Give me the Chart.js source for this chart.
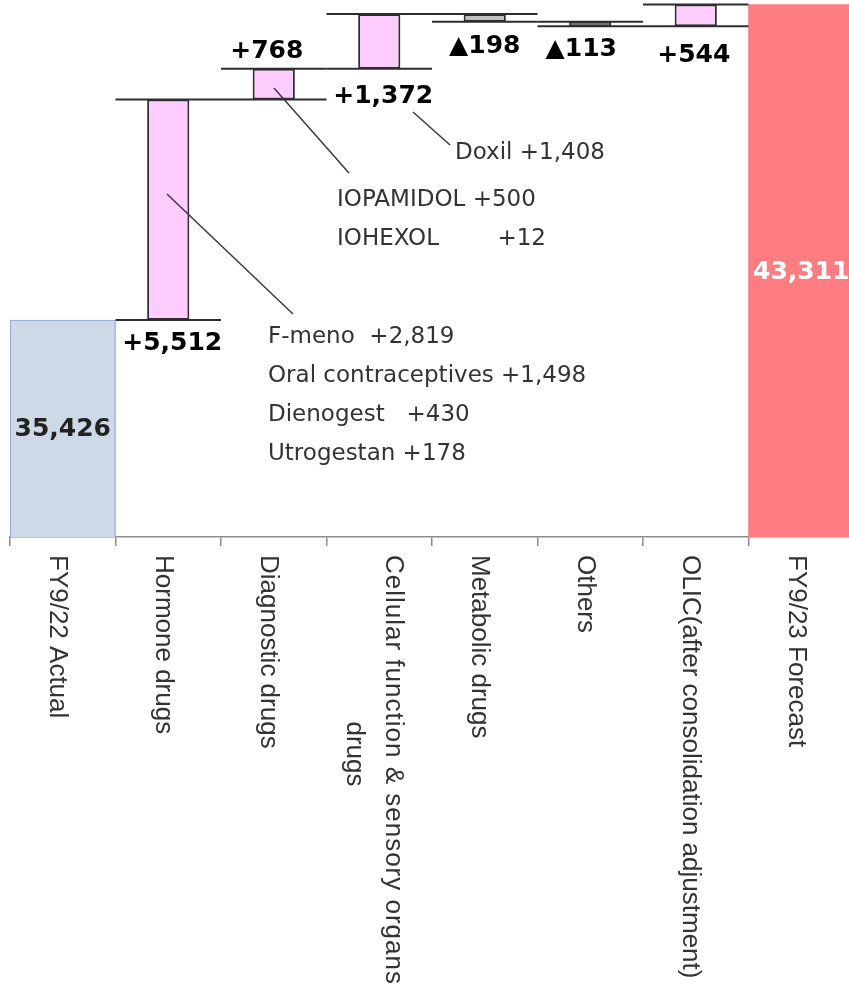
<!DOCTYPE html>
<html>
<head>
<meta charset="utf-8">
<script src="https://cdn.jsdelivr.net/npm/chart.js@4.4.1/dist/chart.umd.min.js"></script>
<style>
  html, body { margin: 0; padding: 0; background: #ffffff; overflow: hidden; }
  #wrap { width: 849px; height: 991px; overflow: hidden; position: relative; }
  canvas { display: block; }
</style>
</head>
<body>
<div id="wrap"><canvas id="chart" width="854" height="991"></canvas></div>
<script>
// ---- Data ----
const categories = [
  'FY9/22 Actual',
  'Hormone drugs',
  'Diagnostic drugs',
  ['Cellular function & sensory organs', 'drugs'],
  'Metabolic drugs',
  'Others',
  'OLIC(after consolidation adjustment)',
  'FY9/23 Forecast'
];
const startTotal = 35426;
const changes = [5512, 768, 1372, -198, -113, 544];
const endTotal = 43311;
const changeLabels = ['+5,512', '+768', '+1,372', '\u25B2198', '\u25B2113', '+544'];
const totalLabels = ['35,426', '43,311'];
const hormoneBreakdown = ['F-meno  +2,819', 'Oral contraceptives +1,498', 'Dienogest   +430', 'Utrogestan +178'];
const diagnosticBreakdown = ['IOPAMIDOL +500', 'IOHEXOL        +12'];
const cellularBreakdown = ['Doxil +1,408'];
const yMin = 30000;
const yMax = 43425;

// ---- Derived series ----
const steps = [];
let running = startTotal;
changes.forEach(d => { steps.push([running, running + d]); running += d; });
const totalData = [startTotal, ...changes.map(() => null), endTotal];
const stepData = [null, ...steps, null];

const PINK = '#FFCCFF', GREY = '#BFBFBF', INK = '#2e2e2e';
const stepColors = [null, ...changes.map(d => d < 0 ? GREY : PINK), null];

// label placement relative to the bar end it hangs from (pixels)
const changeLabelPos = [
  { end: 'low',  dy: 30,  dx: 4 },
  { end: 'high', dy: -11, dx: -7 },
  { end: 'low',  dy: 34,  dx: 4 },
  { end: 'low',  dy: 31,  dx: 0 },
  { end: 'low',  dy: 30,  dx: -9 },
  { end: 'low',  dy: 36,  dx: -2 }
];

// callouts: anchor in (category index, value) space
const callouts = [
  { lines: hormoneBreakdown,    x: 1.9455, v: 34850, step: 975,
    leader: [[0.988, 38575], [2.182, 35575]] },
  { lines: diagnosticBreakdown, x: 2.60,   v: 38275, step: 975,
    leader: [[2.002, 41225], [2.713, 39100]] },
  { lines: cellularBreakdown,   x: 3.718,  v: 39450, step: 975,
    leader: [[3.320, 40625], [3.671, 39800]] }
];

const decor = {
  id: 'waterfallDecor',
  afterDatasetsDraw(chart) {
    const ctx = chart.ctx;
    const xs = chart.scales.x, ys = chart.scales.y;
    const catW = xs.width / categories.length;

    ctx.save();
    // connector lines at both ends of every change
    ctx.strokeStyle = INK;
    ctx.lineWidth = 2;
    steps.forEach((s, i) => {
      const cx = xs.getPixelForValue(i + 1);
      [s[0], s[1]].forEach(v => {
        const y = ys.getPixelForValue(v);
        ctx.beginPath();
        ctx.moveTo(cx - catW / 2, y);
        ctx.lineTo(cx + catW / 2, y);
        ctx.stroke();
      });
    });

    // change labels
    ctx.fillStyle = '#000000';
    ctx.font = 'bold 25px "DejaVu Sans"';
    ctx.textAlign = 'center';
    ctx.textBaseline = 'alphabetic';
    steps.forEach((s, i) => {
      const p = changeLabelPos[i];
      const v = p.end === 'low' ? Math.min(s[0], s[1]) : Math.max(s[0], s[1]);
      const x = xs.getPixelForValue(i + 1) + p.dx;
      const y = ys.getPixelForValue(v) + p.dy;
      ctx.fillText(changeLabels[i], x, y);
    });

    // totals labels, centred inside the bars
    ctx.textBaseline = 'middle';
    const base = ys.getPixelForValue(yMin);
    ctx.fillStyle = '#222222';
    ctx.fillText(totalLabels[0], xs.getPixelForValue(0), (base + ys.getPixelForValue(startTotal)) / 2 + 1);
    ctx.fillStyle = '#ffffff';
    ctx.fillText(totalLabels[1], xs.getPixelForValue(categories.length - 1), (base + ys.getPixelForValue(endTotal)) / 2 + 2);

    // callout leaders and texts
    ctx.strokeStyle = '#3a3a3a';
    ctx.lineWidth = 1.5;
    ctx.fillStyle = '#333333';
    ctx.font = '23px "DejaVu Sans"';
    ctx.textAlign = 'left';
    ctx.textBaseline = 'alphabetic';
    callouts.forEach(c => {
      const [a, b] = c.leader;
      ctx.beginPath();
      ctx.moveTo(xs.getPixelForValue(a[0]), ys.getPixelForValue(a[1]));
      ctx.lineTo(xs.getPixelForValue(b[0]), ys.getPixelForValue(b[1]));
      ctx.stroke();
      c.lines.forEach((t, k) => {
        ctx.fillText(t, xs.getPixelForValue(c.x), ys.getPixelForValue(c.v - k * c.step));
      });
    });
    ctx.restore();
  },
  afterDraw(chart) {
    // category names, rotated to read downwards
    const ctx = chart.ctx;
    const xs = chart.scales.x;
    const top = chart.chartArea.bottom + 18;
    ctx.save();
    ctx.fillStyle = '#333333';
    ctx.font = '26px "Liberation Sans", Arial';
    ctx.textAlign = 'left';
    ctx.textBaseline = 'alphabetic';
    categories.forEach((lab, i) => {
      const cx = xs.getPixelForValue(i);
      ctx.save();
      ctx.translate(cx, top);
      ctx.rotate(Math.PI / 2);
      if (Array.isArray(lab)) {
        ctx.letterSpacing = '1px';
        const w0 = ctx.measureText(lab[0]).width;
        ctx.fillText(lab[0], 0, -6.25);
        ctx.letterSpacing = '0px';
        for (let k = 1; k < lab.length; k++) {
          const w = ctx.measureText(lab[k]).width;
          ctx.fillText(lab[k], (w0 - w) / 2 - 16, -6.25 + 39 * k);
        }
      } else {
        ctx.fillText(lab, 0, 12.75);
      }
      ctx.restore();
    });
    ctx.restore();
  }
};

new Chart(document.getElementById('chart'), {
  type: 'bar',
  data: {
    labels: categories,
    datasets: [
      {
        label: 'Total',
        data: totalData,
        backgroundColor: ['#CDD9E7', null, null, null, null, null, null, '#FF7C80'],
        borderColor: ['#86A3CE', null, null, null, null, null, null, 'rgba(0,0,0,0)'],
        borderWidth: [1.2, 0, 0, 0, 0, 0, 0, 0],
        borderSkipped: false,
        barPercentage: 1,
        categoryPercentage: 1,
        grouped: false
      },
      {
        label: 'Change',
        data: stepData,
        backgroundColor: stepColors,
        borderColor: INK,
        borderWidth: 2,
        borderSkipped: false,
        barPercentage: 0.4,
        categoryPercentage: 1,
        grouped: false
      }
    ]
  },
  options: {
    responsive: false,
    animation: false,
    devicePixelRatio: 1,
    layout: { padding: { left: 10, right: 0, top: 0, bottom: 0 } },
    plugins: { legend: { display: false }, tooltip: { enabled: false } },
    scales: {
      x: {
        offset: true,
        grid: { offset: true, drawOnChartArea: false, drawTicks: true, tickLength: 9, color: '#8c8c8c', lineWidth: 1.5 },
        border: { display: true, color: '#8c8c8c', width: 1.5 },
        ticks: { display: false },
        afterFit(scale) { scale.height = 454; }
      },
      y: { display: false, min: yMin, max: yMax }
    }
  },
  plugins: [decor]
});
</script>
</body>
</html>
